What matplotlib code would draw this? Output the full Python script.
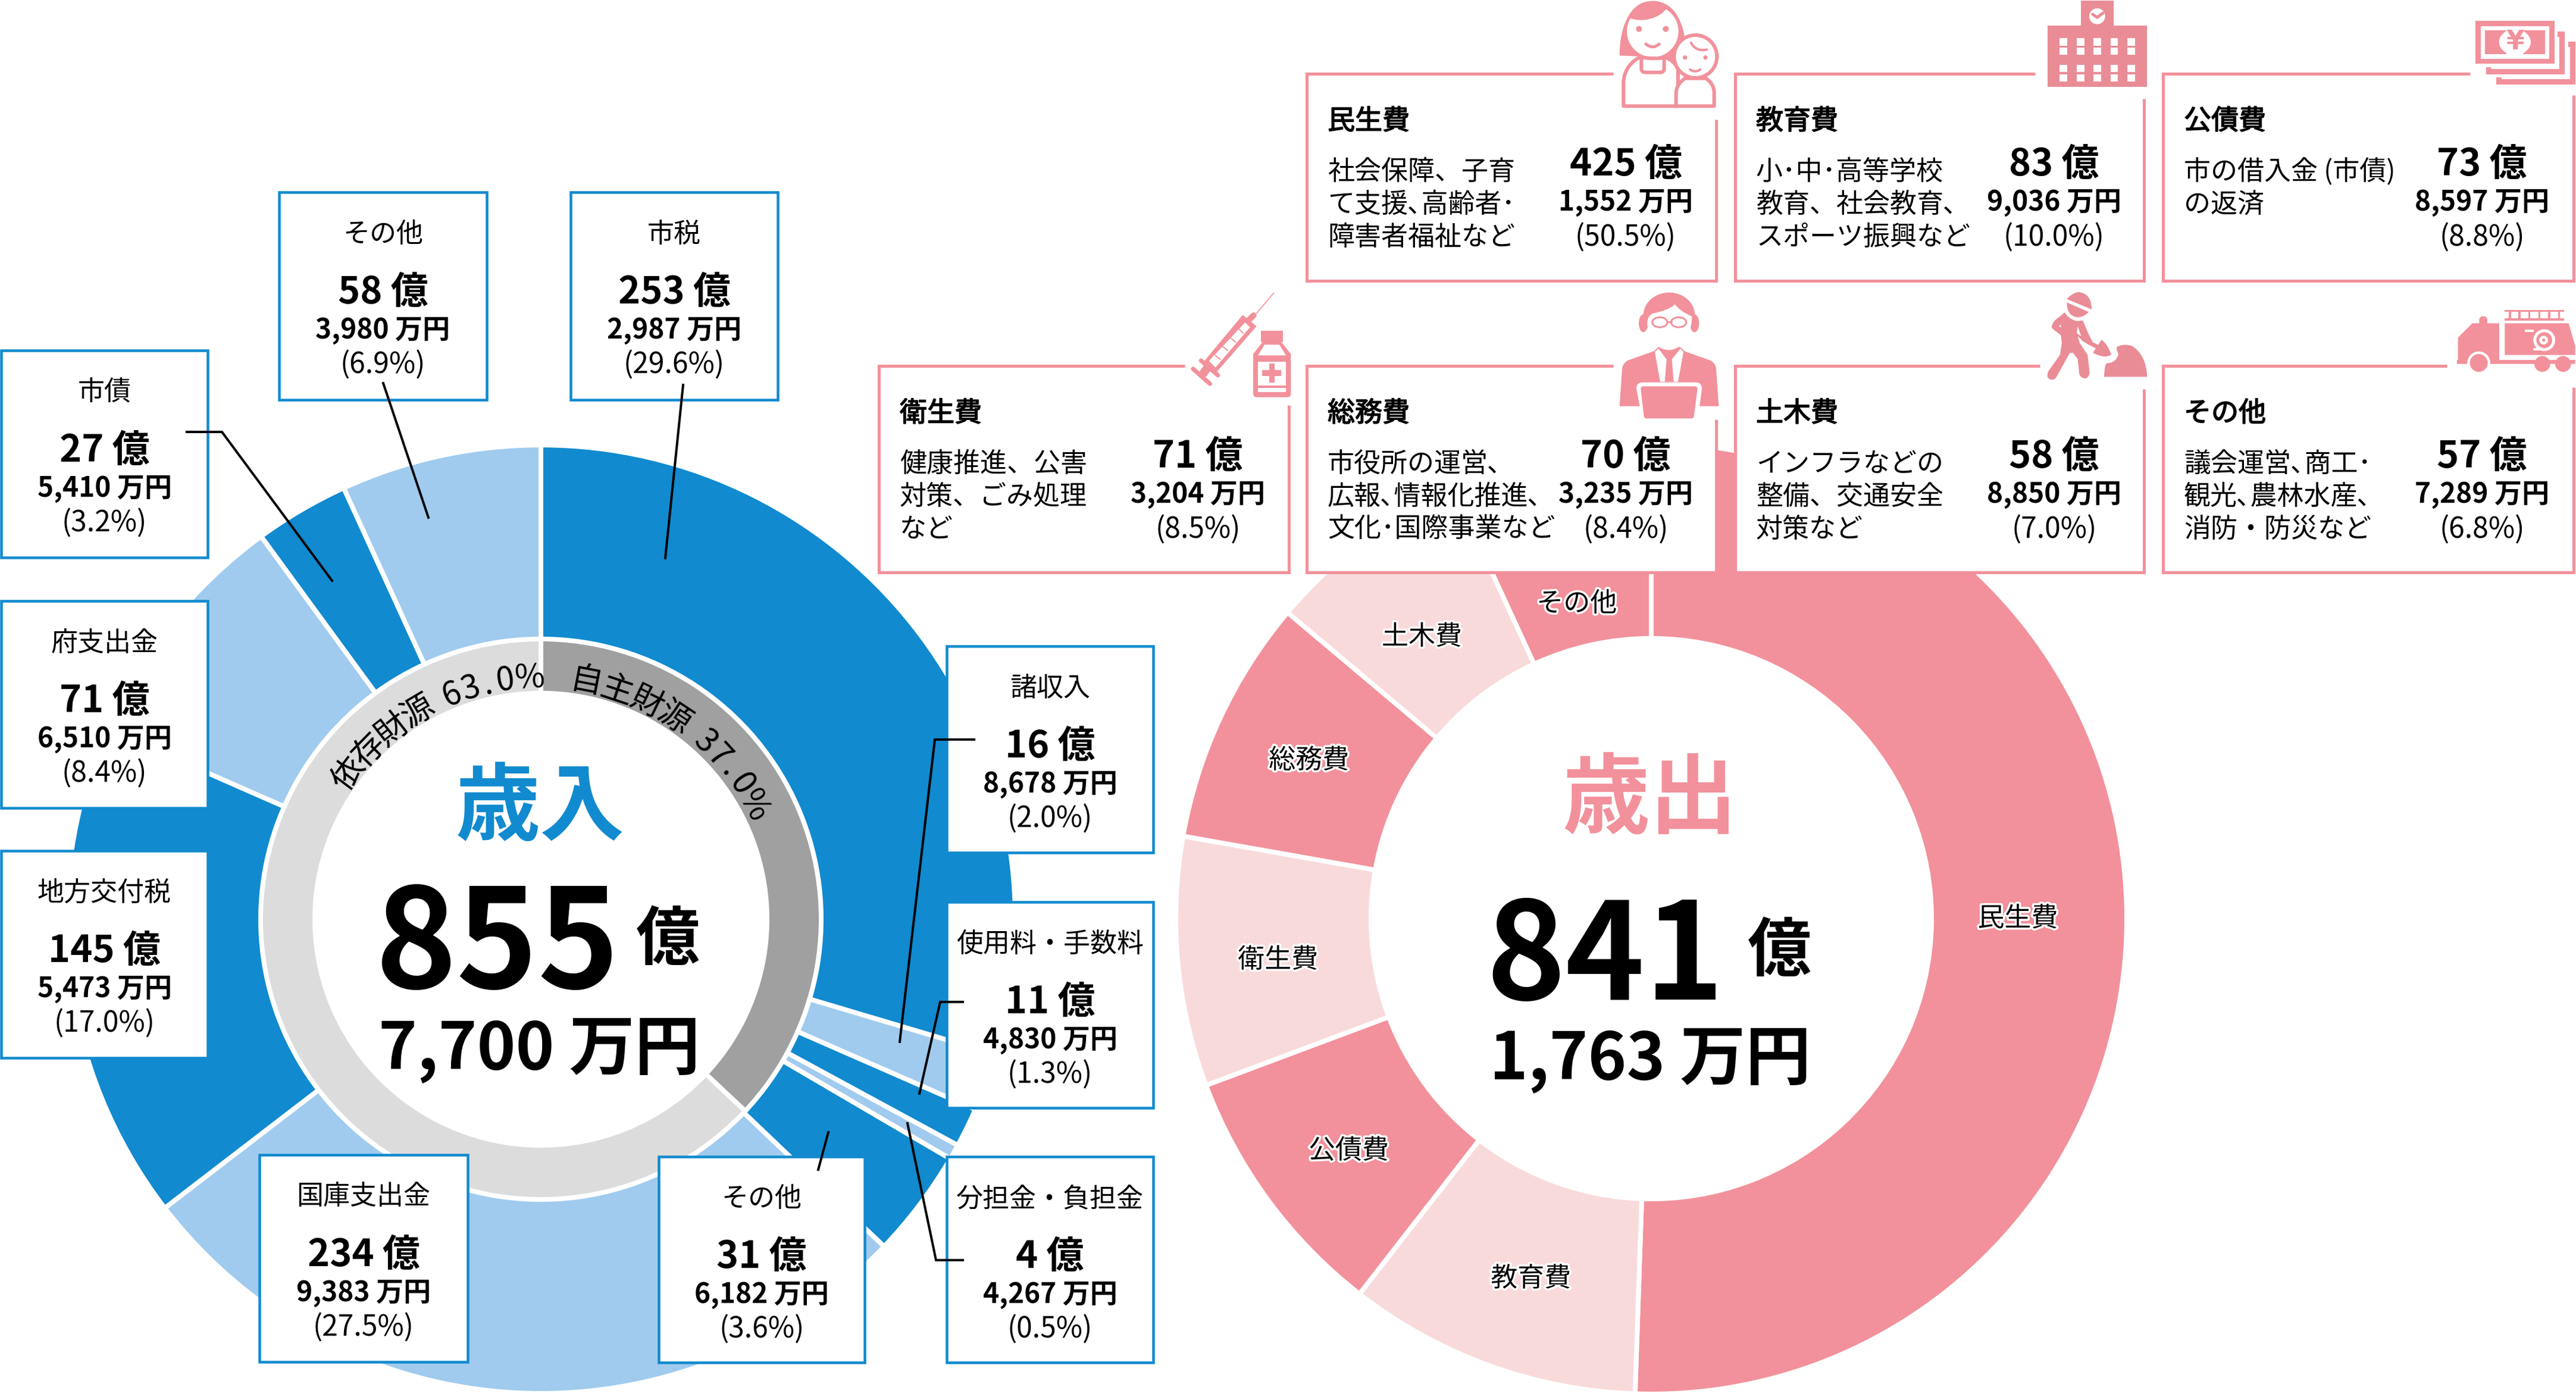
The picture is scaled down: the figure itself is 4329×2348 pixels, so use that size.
import re
import numpy as np
import matplotlib
matplotlib.use("Agg")
import matplotlib.pyplot as plt
import matplotlib.patheffects as pe
from matplotlib.path import Path
from matplotlib.patches import PathPatch, Circle, Ellipse, Rectangle

W, H = 4329, 2348
plt.rcParams['font.family'] = ['Noto Sans CJK JP', 'DejaVu Sans']

# 歳入 (clockwise from the top)
rev_names = ["市税", "諸収入", "使用料・手数料", "分担金・負担金", "その他", "国庫支出金", "地方交付税", "府支出金", "市債", "その他"]
rev_oku = [253, 16, 11, 4, 31, 234, 145, 71, 27, 58]
rev_man = [2987, 8678, 4830, 4267, 6182, 9383, 5473, 6510, 5410, 3980]
rev_pct = [29.6, 2.0, 1.3, 0.5, 3.6, 27.5, 17.0, 8.4, 3.2, 6.9]
source_names = ["自主財源", "依存財源"]
source_pct = [37.0, 63.0]

# 歳出 (clockwise from the top)
exp_names = ["民生費", "教育費", "公債費", "衛生費", "総務費", "土木費", "その他"]
exp_oku = [425, 83, 73, 71, 70, 58, 57]
exp_man = [1552, 9036, 8597, 3204, 3235, 8850, 7289]
exp_pct = [50.5, 10.0, 8.8, 8.5, 8.4, 7.0, 6.8]
exp_desc = [
    ["社会保障、子育", "て支援､高齢者･", "障害者福祉など"],
    ["小･中･高等学校", "教育、社会教育､", "スポーツ振興など"],
    ["市の借入金 (市債)", "の返済"],
    ["健康推進、公害", "対策、ごみ処理", "など"],
    ["市役所の運営､", "広報､情報化推進､", "文化･国際事業など"],
    ["インフラなどの", "整備、交通安全", "対策など"],
    ["議会運営､商工･", "観光､農林水産､", "消防・防災など"],
]

BLUE = "#118ACF"
LBLUE = "#A0CBEE"
PINK = "#F2919B"
LPINK = "#F9DADB"
SCHOOL = "#E98C96"
GRAY = "#A0A0A0"
LGRAY = "#DCDCDC"
FONT_PX = 0.72  # points per pixel at dpi 100


def pt(px):
    return px * FONT_PX


def svg(d, ox, oy):
    # small path parser, icon coordinates are 3x crops of the picture
    tokens = re.findall(r"[MLHVQCZ]|-?\d+\.?\d*", d)
    verts, codes = [], []
    i, cx, cy = 0, 0, 0
    cmd = None
    while i < len(tokens):
        if tokens[i].isalpha():
            cmd = tokens[i]
            i += 1
            if cmd == "Z":
                verts.append((cx, cy))
                codes.append(Path.CLOSEPOLY)
            continue
        if cmd in "ML":
            cx, cy = float(tokens[i]), float(tokens[i + 1])
            i += 2
            verts.append((cx, cy))
            codes.append(Path.MOVETO if cmd == "M" else Path.LINETO)
        elif cmd == "H":
            cx = float(tokens[i])
            i += 1
            verts.append((cx, cy))
            codes.append(Path.LINETO)
        elif cmd == "V":
            cy = float(tokens[i])
            i += 1
            verts.append((cx, cy))
            codes.append(Path.LINETO)
        elif cmd == "Q":
            p = [float(t) for t in tokens[i:i + 4]]
            i += 4
            verts += [(p[0], p[1]), (p[2], p[3])]
            codes += [Path.CURVE3, Path.CURVE3]
            cx, cy = p[2], p[3]
        elif cmd == "C":
            p = [float(t) for t in tokens[i:i + 6]]
            i += 6
            verts += [(p[0], p[1]), (p[2], p[3]), (p[4], p[5])]
            codes += [Path.CURVE4] * 3
            cx, cy = p[4], p[5]
    verts = np.array(verts) / 3 + [ox, oy]
    return Path(verts, codes)


fig = plt.figure(figsize=(W / 100, H / 100), dpi=100)
ax = fig.add_axes([0, 0, 1, 1])


def shape(d, ox, oy, fc=PINK, ec="none", lw=0, z=10):
    ax.add_patch(PathPatch(svg(d, ox, oy), fc=fc, ec=ec, lw=lw, zorder=z, capstyle="round", joinstyle="round"))


def disc(x, y, r, ox, oy, fc=PINK, ec="none", lw=0, z=10):
    ax.add_patch(Circle((ox + x / 3, oy + y / 3), r / 3, fc=fc, ec=ec, lw=lw, zorder=z))


def oval(x, y, rx, ry, ox, oy, fc=PINK, ec="none", lw=0, z=10):
    ax.add_patch(Ellipse((ox + x / 3, oy + y / 3), 2 * rx / 3, 2 * ry / 3, fc=fc, ec=ec, lw=lw, zorder=z))


def rect(x0, y0, x1, y1, ox, oy, fc=PINK, z=10):
    ax.add_patch(Rectangle((ox + x0 / 3, oy + y0 / 3), (x1 - x0) / 3, (y1 - y0) / 3, fc=fc, ec="none", zorder=z))


def stroke(x0, y0, x1, y1, ox, oy, lw, color=PINK, z=10):
    ax.plot([ox + x0 / 3, ox + x1 / 3], [oy + y0 / 3, oy + y1 / 3], color=color, lw=pt(lw / 3),
            solid_capstyle="round", zorder=z)


# donuts
CX1, CY1 = 909, 1545
CX2, CY2 = 2775, 1544
rev_values = [o + m / 10000 for o, m in zip(rev_oku, rev_man)]
exp_values = [o + m / 10000 for o, m in zip(exp_oku, exp_man)]
rev_colors = [BLUE, LBLUE] * 5
exp_colors = [PINK, LPINK, PINK, LPINK, PINK, LPINK, PINK]
white_edge = dict(edgecolor="white", linewidth=pt(8))

ax.pie(rev_values, colors=rev_colors, startangle=-90, counterclock=True, center=(CX1, CY1), radius=797,
       wedgeprops=dict(width=328, **white_edge))
ax.pie(source_pct, colors=[GRAY, LGRAY], startangle=-90, counterclock=True, center=(CX1, CY1), radius=471,
       wedgeprops=dict(width=91, edgecolor="white", linewidth=pt(8)))
ax.pie(exp_values, colors=exp_colors, startangle=-90, counterclock=True, center=(CX2, CY2), radius=799,
       wedgeprops=dict(width=328, **white_edge))

# labels on the right donut, nudged by hand off the wedge middle
label_nudge = [(-19, -11), (14, 8), (3, 14), (5, 11), (0, 3), (-14, 14), (-8, 6)]
label_r = {5: 613, 6: 548}
total = sum(exp_values)
acc = 0
for i, (name, v) in enumerate(zip(exp_names, exp_values)):
    th = np.radians((acc + v / 2) / total * 360)
    acc += v
    r = label_r.get(i, 635)
    ax.text(CX2 + r * np.sin(th) + label_nudge[i][0], CY2 - r * np.cos(th) + label_nudge[i][1], name,
            fontsize=pt(45), ha="center", va="center", zorder=6,
            path_effects=[pe.withStroke(linewidth=pt(7), foreground="white")])


# ring text, character by character
def arc_text(s, th0, th1, r=405, size=55):
    adv = [0.5 if c == "." else 0.62 if c.isdigit() else 0.4 if c == " " else 0.95 if c == "%" else 1.0 for c in s]
    pos = np.cumsum([0] + [(a + b) / 2 for a, b in zip(adv[:-1], adv[1:])])
    angles = th0 + (th1 - th0) * pos / pos[-1]
    for c, a in zip(s, angles):
        if c == " ":
            continue
        t = np.radians(a)
        ax.text(CX1 + r * np.sin(t), CY1 - r * np.cos(t), c, fontsize=pt(size), rotation=-a,
                rotation_mode="anchor", ha="center", va="center", zorder=6)


arc_text(f"{source_names[0]} {source_pct[0]:.1f}%", 10.8, 62)
arc_text(f"{source_names[1]} {source_pct[1]:.1f}%", -53, -2.7)

# centre text
ax.text(908, 1360, "歳入", color=BLUE, fontsize=pt(142), fontweight="bold", ha="center", va="center", zorder=6)
ax.text(835, 1593, "855", fontsize=pt(232), fontweight="bold", ha="center", va="center", zorder=6)
ax.text(1122, 1581, "億", fontsize=pt(107), fontweight="bold", ha="center", va="center", zorder=6)
ax.text(906, 1766, "7,700 万円", fontsize=pt(110), fontweight="bold", ha="center", va="center", zorder=6)

ax.text(2772, 1347, "歳出", color=PINK, fontsize=pt(147), fontweight="bold", ha="center", va="center", zorder=6)
ax.text(2697, 1614, "841", fontsize=pt(226), fontweight="bold", ha="center", va="center", zorder=6)
ax.text(2990, 1600, "億", fontsize=pt(107), fontweight="bold", ha="center", va="center", zorder=6)
ax.text(2773, 1783, "1,763 万円", fontsize=pt(110), fontweight="bold", ha="center", va="center", zorder=6)

# revenue boxes: left, top, right, bottom
rev_boxes = [(959, 323, 1307, 672), (1591, 1086, 1938, 1433), (1591, 1516, 1938, 1862), (1591, 1944, 1938, 2290),
             (1107, 1944, 1453, 2290), (436, 1941, 786, 2289), (2, 1430, 349, 1778), (2, 1010, 349, 1358),
             (2, 589, 349, 937), (469, 323, 818, 672)]
for name, oku, man, pct, (x0, y0, x1, y1) in zip(rev_names, rev_oku, rev_man, rev_pct, rev_boxes):
    ax.add_patch(Rectangle((x0, y0), x1 - x0, y1 - y0, fc="white", ec=BLUE, lw=pt(4.5), zorder=7))
    xc = (x0 + x1) / 2
    ax.text(xc, y0 + 71, name, fontsize=pt(45), ha="center", va="center", zorder=8)
    ax.text(xc, y0 + 168, f"{oku} 億", fontsize=pt(63), fontweight="bold", ha="center", va="center", zorder=8)
    ax.text(xc, y0 + 232, f"{man:,} 万円", fontsize=pt(46), fontweight="bold", ha="center", va="center", zorder=8)
    ax.text(xc, y0 + 291, f"({pct:.1f}%)", fontsize=pt(48), ha="center", va="center", zorder=8)

# leader lines
leaders = [
    [(1148, 647), (1118, 938)],
    [(644, 644), (720, 870)],
    [(314, 726), (373, 726), (558, 976)],
    [(1637, 1243), (1571, 1243), (1512, 1751)],
    [(1618, 1684), (1580, 1684), (1545, 1838)],
    [(1618, 2118), (1573, 2118), (1525, 1888)],
    [(1392, 1903), (1375, 1966)],
]
for seg in leaders:
    xs, ys = zip(*seg)
    ax.plot(xs, ys, color="black", lw=pt(4), solid_joinstyle="miter", zorder=9)

# expense boxes: left, top, right, bottom, end of top edge, start of right edge
exp_boxes = [(2196, 124, 2884, 472, 2711, 201), (2916, 124, 3603, 472, 3420, 166), (3635, 124, 4325, 472, 4151, 160),
             (1477, 615, 2166, 962, 1991, 681), (2196, 615, 2884, 962, 2711, 705), (2916, 615, 3603, 962, 3428, 654),
             (3635, 615, 4325, 962, 4112, 651)]
for i, (x0, y0, x1, y1, top_end, right_start) in enumerate(exp_boxes):
    ax.add_patch(Rectangle((x0, y0), x1 - x0, y1 - y0, fc="white", ec="none", zorder=7))
    ax.plot([top_end, x0, x0, x1, x1], [y0, y0, y1, y1, right_start], color=PINK, lw=pt(5),
            solid_joinstyle="miter", solid_capstyle="butt", zorder=8)
    ax.text(x0 + 35, y0 + 80, exp_names[i], fontsize=pt(46), ha="left", va="center", zorder=8,
            path_effects=[pe.withStroke(linewidth=pt(1.6), foreground="black")])
    for k, line in enumerate(exp_desc[i]):
        ax.text(x0 + 35, y0 + 165 + 55 * k, line, fontsize=pt(45), ha="left", va="center", zorder=8)
    xc = x0 + 536
    ax.text(xc, y0 + 152, f"{exp_oku[i]} 億", fontsize=pt(63), fontweight="bold", ha="center", va="center", zorder=8)
    ax.text(xc, y0 + 216, f"{exp_man[i]:,} 万円", fontsize=pt(46), fontweight="bold", ha="center", va="center", zorder=8)
    ax.text(xc, y0 + 276, f"({exp_pct[i]:.1f}%)", fontsize=pt(48), ha="center", va="center", zorder=8)

# icon: mother and child
o = (2700, 0)
shape("M65 280 C65 150 110 5 230 5 C330 5 375 90 392 180 L340 300 L170 285 Z", *o)
disc(232, 158, 130, *o, fc="white")
shape("M108 88 C150 20 220 5 240 5 C270 5 290 20 302 42 C270 90 180 120 108 88 Z", *o)
disc(163, 146, 15, *o)
disc(298, 146, 15, *o)
shape("M198 222 Q232 250 265 222", *o, fc="none", ec=PINK, lw=pt(5))
shape("M85 535 V420 C85 350 130 305 170 288 Q232 300 300 290 C340 310 350 330 360 350 V535 Z", *o, fc="white", ec=PINK, lw=pt(6))
shape("M175 295 V345 Q175 365 195 365 H270 Q290 365 290 345 V300", *o, fc="none", ec=PINK, lw=pt(6))
shape("M350 535 V470 C350 430 380 405 395 395 H500 C530 415 542 440 542 470 V535 Z", *o, fc="white", ec=PINK, lw=pt(6), z=11)
disc(448, 285, 108, *o, fc="white", ec=PINK, lw=pt(6), z=12)
disc(395, 290, 11, *o, z=13)
disc(498, 290, 11, *o, z=13)
shape("M420 350 Q447 370 472 350", *o, fc="none", ec=PINK, lw=pt(4), z=13)
shape("M425 215 Q450 262 505 250", *o, fc="none", ec=PINK, lw=pt(4), z=13)

# icon: school
o = (3420, 0)
rect(230, 2, 397, 130, *o, fc=SCHOOL)
rect(62, 130, 565, 438, *o, fc=SCHOOL)
disc(313, 82, 40, *o, fc="white", z=11)
shape("M290 72 L313 88 L342 66", *o, fc="none", ec=SCHOOL, lw=pt(5), z=12)
for wx in [123, 210, 295, 380, 465]:
    for wy in [193, 240, 327, 374]:
        rect(wx, wy, wx + 38, wy + 37, *o, fc="white", z=11)

# icon: banknotes
o = (4129, 0)
rect(93, 105, 491, 321, *o)
rect(119, 132, 466, 296, *o, fc="white", z=11)
rect(140, 153, 444, 274, *o, z=12)
oval(292, 212, 80, 64, *o, fc="white", z=13)
oval(292, 212, 62, 80, *o, fc="white", z=13)
ax.text(4129 + 292 / 3, 212 / 3, "¥", color=PINK, fontsize=pt(44), fontweight="bold", family="DejaVu Sans",
        ha="center", va="center", zorder=14)
shape("M507 160 H543 V374 H146 V338 H171 V349 H517 V186 H507 Z", *o)
shape("M560 210 H596 V425 H198 V391 H224 V400 H570 V236 H560 Z", *o)

# icon: syringe and bottle
o = (1980, 480)
stroke(395, 140, 482, 37, *o, 5)
stroke(355, 175, 380, 150, *o, 30)
shape("M325 148 L395 205 L190 440 L128 385 Z", *o)
shape("M337 186 L362 210 L188 413 L155 380 Z", *o, fc="white", z=11)
for a, b, c, d in [(305, 218, 328, 240), (265, 265, 290, 285), (225, 308, 250, 328), (187, 352, 212, 372)]:
    stroke(a, b, c, d, *o, 6, z=12)
stroke(150, 410, 125, 445, *o, 42)
stroke(75, 420, 160, 495, *o, 22)
stroke(115, 378, 200, 452, *o, 22)
rect(418, 228, 527, 285, *o)
shape("M425 285 L378 345 V545 Q378 563 396 563 H550 Q568 563 568 545 V345 L520 285 Z", *o)
shape("M435 298 L402 352 H543 L510 298 Z", *o, fc="white", z=11)
rect(402, 383, 543, 503, *o, fc="white", z=11)
rect(402, 517, 543, 538, *o, fc="white", z=11)
rect(458, 393, 486, 488, *o, z=12)
rect(423, 427, 520, 455, *o, z=12)

# icon: office worker with laptop
o = (2700, 480)
oval(315, 150, 130, 115, *o)
oval(185, 190, 23, 45, *o)
oval(443, 190, 23, 45, *o)
shape("M205 190 Q205 150 235 140 Q310 125 345 95 Q370 130 430 155 Q430 220 400 270 Q360 325 315 325 Q265 325 230 275 Q205 230 205 190 Z", *o, fc="white", z=11)
oval(268, 185, 38, 25, *o, fc="none", ec=PINK, lw=pt(3), z=12)
oval(363, 185, 38, 25, *o, fc="none", ec=PINK, lw=pt(3), z=12)
stroke(305, 183, 328, 183, *o, 9, z=12)
shape("M65 608 L78 420 Q80 395 105 378 L240 330 L260 310 L370 310 L395 332 L525 378 Q550 395 552 420 L565 608 Z", *o)
shape("M243 335 L262 318 L300 370 L330 370 L372 318 L387 335 L360 485 H270 Z", *o, fc="white", z=11)
shape("M303 365 H328 L338 485 H293 Z", *o, z=12)
shape("M150 520 Q150 488 180 488 H450 Q480 488 480 520 L460 675 H180 Z", *o, fc="white", z=13)
shape("M172 520 Q172 508 185 508 H445 Q458 508 458 520 L440 660 Q438 670 425 670 H200 Q190 670 188 660 Z", *o, z=14)

# icon: construction worker
o = (3420, 480)
shape("M160 68 Q190 35 220 33 Q285 40 285 120 Z", *o, fc=SCHOOL)
shape("M160 85 L270 133 Q245 160 215 160 Q160 155 160 85 Z", *o, fc=SCHOOL)
shape("M150 135 Q165 165 205 178 Q225 180 240 175 L270 245 L290 285 L320 300 L310 318 L270 298 L240 280 L215 255 L225 290 "
      "L265 350 L275 440 Q270 468 250 468 Q225 465 222 440 L215 370 L190 338 L175 340 L105 465 Q85 485 65 465 Q55 445 75 420 "
      "L125 350 L135 290 L130 250 L85 215 Q80 200 100 175 Z", *o, fc=SCHOOL)
shape("M130 195 L120 207 L130 210 Z", *o, fc="white", z=11)
shape("M215 205 L210 240 L232 255 Z", *o, fc="white", z=11)
shape("M335 273 Q365 295 383 345 Q385 355 350 358 Q310 352 292 338 Z", *o, fc=SCHOOL)
shape("M348 460 Q350 400 360 392 Q410 390 420 345 Q405 315 415 308 Q450 290 490 305 Q560 350 565 460 Z", *o, fc=SCHOOL)

# icon: fire engine
o = (4129, 480)
shape("M5 262 L78 190 H112 V175 Q112 155 132 155 Q153 155 153 175 V190 H213 V375 H596 V395 H0 V375 H5 Z", *o)
shape("M241 190 H563 L596 305 V350 H241 Z", *o)
rect(241, 122, 540, 133, *o)
rect(241, 165, 540, 176, *o)
for rx in [262, 310, 360, 410, 460, 510]:
    rect(rx, 122, rx + 10, 176, *o)
disc(110, 390, 58, *o, fc="white", z=11)
disc(110, 390, 45, *o, z=12)
disc(430, 395, 40, *o, z=9)
disc(535, 395, 40, *o, z=9)
disc(440, 275, 55, *o, fc="white", z=11)
disc(440, 275, 40, *o, z=12)
disc(437, 275, 22, *o, fc="white", z=13)
disc(437, 275, 8, *o, z=14)
rect(342, 222, 388, 235, *o, fc="white", z=11)
rect(383, 316, 445, 328, *o, fc="white", z=11)

ax.set_xlim(0, W)
ax.set_ylim(H, 0)
ax.set_aspect("auto")
ax.axis("off")
fig.savefig("out.png", dpi=100, facecolor="white")
